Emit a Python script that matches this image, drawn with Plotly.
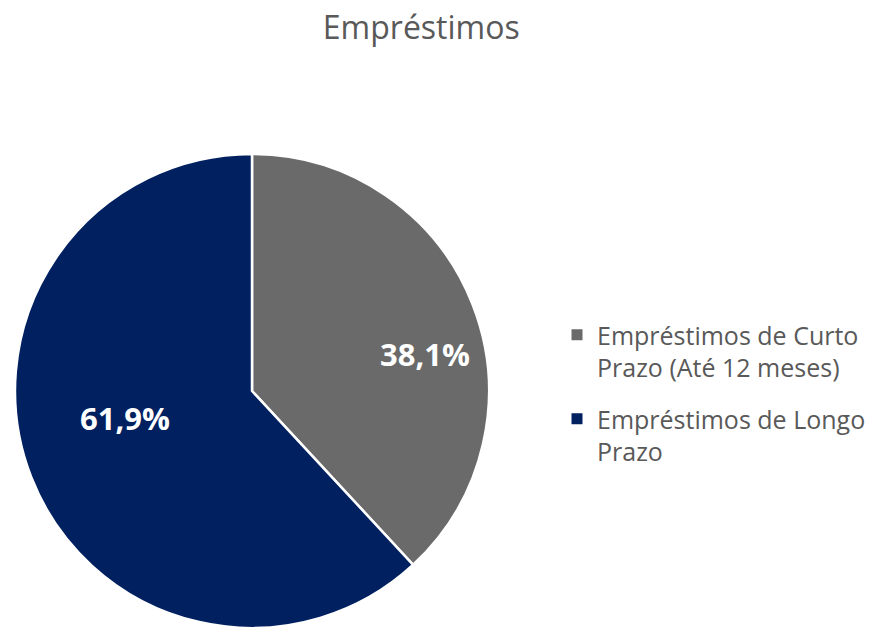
import plotly.graph_objects as go

categories = ["Empréstimos de Curto<br>Prazo (Até 12 meses)", "Empréstimos de Longo<br>Prazo"]
values = [38.1, 61.9]
colors = ["#6a6a6a", "#002060"]

W, H = 874, 628

fig = go.Figure(go.Pie(
    labels=categories,
    values=values,
    sort=False,
    direction="clockwise",
    rotation=0,
    marker=dict(colors=colors, line=dict(color="white", width=2.5)),
    textinfo="none",
    domain=dict(x=[14/W, 490/W], y=[0, 1-154/H]),
    hoverinfo="label+percent",
    showlegend=False,
))

# legend entries (one group per category so spacing between entries can be set)
for lab, col in zip(categories, colors):
    fig.add_trace(go.Scatter(
        x=[None], y=[None], mode="markers", name=lab, legendgroup=lab,
        marker=dict(symbol="square", size=11, color=col),
        hoverinfo="skip",
    ))

# data labels placed like the original (Excel) chart
label_pos = [(424.5, 354), (124.5, 418)]
total = sum(values)
for v, (px, py) in zip(values, label_pos):
    fig.add_annotation(
        x=px/W, y=1-py/H, xref="paper", yref="paper",
        xanchor="center", yanchor="middle", showarrow=False,
        text=f"{v/total*100:.1f}%".replace(".", ","),
        font=dict(family="Open Sans", size=31, color="white", weight="bold"),
    )

fig.update_layout(
    width=W, height=H,
    margin=dict(l=0, r=0, t=0, b=0),
    paper_bgcolor="white",
    plot_bgcolor="white",
    xaxis=dict(visible=False),
    yaxis=dict(visible=False),
    font=dict(family="Open Sans", color="#595959"),
    title=dict(text="Empréstimos", x=0.482, xanchor="center", y=0.955, yanchor="middle",
               font=dict(family="Open Sans", size=32, color="#595959")),
    legend=dict(x=557/W, y=1-312/H, xanchor="left", yanchor="top",
                font=dict(family="Open Sans", size=25, color="#595959"),
                traceorder="grouped", tracegroupgap=16, valign="top",
                bgcolor="rgba(0,0,0,0)"),
    showlegend=True,
)

fig.write_html("out.html", config={"displayModeBar": False},
               post_script="document.body.style.margin='0';")
